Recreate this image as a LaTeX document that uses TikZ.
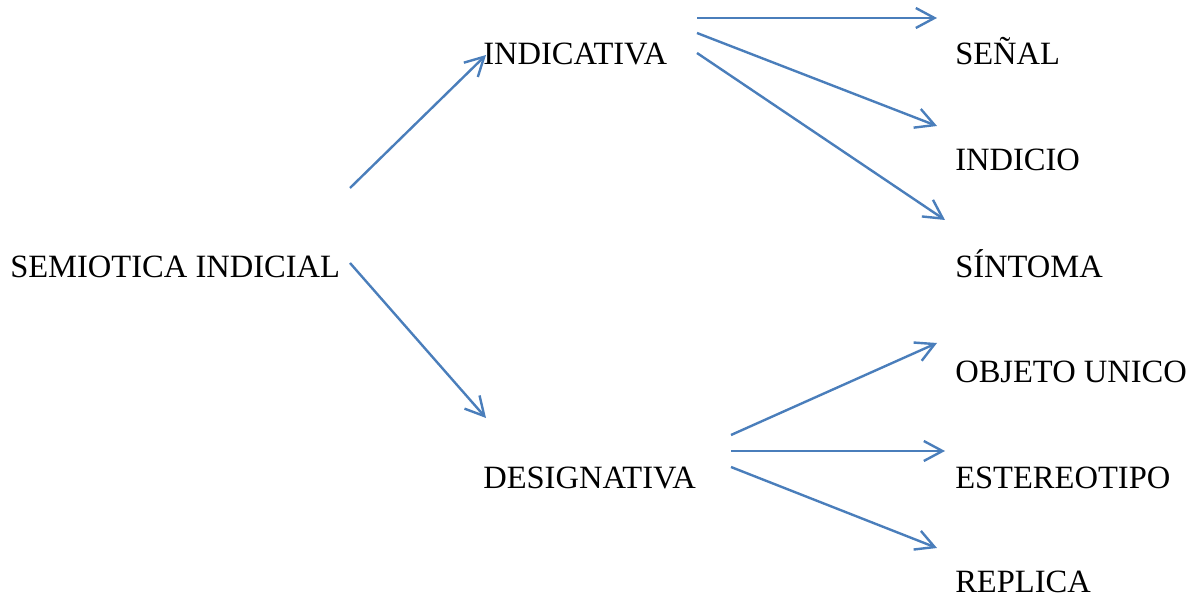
\documentclass[tikz,border=0pt]{standalone}
\usepackage{fontspec}
\setmainfont{Liberation Serif}
\usetikzlibrary{arrows.meta}
\definecolor{arrblue}{HTML}{4A7EBB}
\begin{document}
\begin{tikzpicture}[x=0.75pt,y=-0.75pt,
  lbl/.style={anchor=base west, inner sep=0pt, font=\fontsize{24.4}{28}\selectfont},
  arr/.style={draw=arrblue, line width=1.8pt, -{Straight Barb[length=14pt,width=15pt,line width=1.8pt]}}]
\useasboundingbox (0,0) rectangle (1190,598);
\node[lbl] (sem) at (10,278){SEMIOTICA INDICIAL};
\node[lbl] (ind) at (483,65){INDICATIVA};
\node[lbl] (des) at (483,489){DESIGNATIVA};
\node[lbl] (sen) at (955,65){SEÑAL};
\node[lbl] (idc) at (955,171){INDICIO};
\node[lbl] (sin) at (955,278){SÍNTOMA};
\node[lbl] (obj) at (955,383){OBJETO UNICO};
\node[lbl] (est) at (955,489){ESTEREOTIPO};
\node[lbl] (rep) at (955,593){REPLICA};
% arrow ends
\coordinate (sem1) at (350,188);
\coordinate (sem2) at (350,263);
\coordinate (ind0) at (486,55);
\coordinate (des0) at (486,418);
\coordinate (ind1) at (697,18);
\coordinate (ind2) at (697,33);
\coordinate (ind3) at (697,53);
\coordinate (sen0) at (937,18);
\coordinate (idc0) at (937,126);
\coordinate (sin0) at (945,220);
\coordinate (des1) at (731,435);
\coordinate (des2) at (731,451);
\coordinate (des3) at (731,467);
\coordinate (obj0) at (937,343);
\coordinate (est0) at (945,451);
\coordinate (rep0) at (937,548);
\draw[arr](sem1) -- (ind0);
\draw[arr](sem2) -- (des0);
\draw[arr](ind1) -- (sen0);
\draw[arr](ind2) -- (idc0);
\draw[arr](ind3) -- (sin0);
\draw[arr](des1) -- (obj0);
\draw[arr](des2) -- (est0);
\draw[arr](des3) -- (rep0);
\end{tikzpicture}
\end{document}
